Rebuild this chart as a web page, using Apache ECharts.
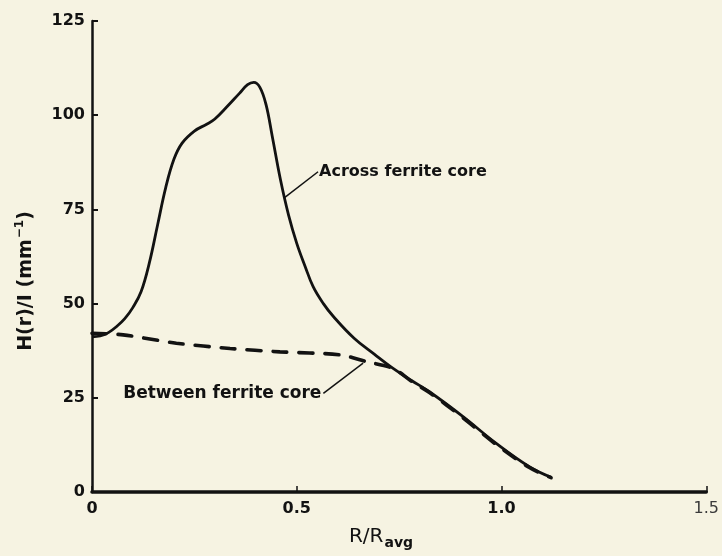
<!DOCTYPE html>
<html>
<head>
<meta charset="utf-8">
<script src="https://cdn.jsdelivr.net/npm/echarts@6/dist/echarts.min.js"></script>
<style>
  html, body { margin: 0; padding: 0; background: #f6f3e2; }
  #chart { width: 722px; height: 556px; }
</style>
</head>
<body>
<div id="chart"></div>
<script>
// Field profile H(r)/I versus normalised radius R/Ravg
const rAcross = [0, 0.02, 0.04, 0.06, 0.08, 0.10, 0.12, 0.14, 0.16, 0.18, 0.20, 0.22, 0.25, 0.28, 0.30, 0.33, 0.36, 0.38, 0.395, 0.41, 0.425, 0.44, 0.46, 0.48, 0.50, 0.52, 0.54, 0.565, 0.59, 0.64, 0.69, 0.73, 0.78, 0.824, 0.906, 0.987, 1.068, 1.121];
const hAcross = [41.2, 41.4, 42.3, 43.9, 46.0, 49.0, 53.2, 60.8, 70.8, 80.8, 88.3, 92.6, 95.8, 97.6, 99.0, 102.3, 105.8, 108.1, 108.7, 107.4, 102.8, 94.5, 83.0, 73.5, 66.0, 60.0, 54.5, 50.0, 46.5, 40.8, 36.5, 33.2, 29.6, 26.6, 20.0, 12.9, 6.7, 3.9];

const rBetween = [0, 0.076, 0.206, 0.337, 0.459, 0.605, 0.67, 0.735, 0.78, 0.824, 0.906, 0.987, 1.068, 1.121];
const hBetween = [42.1, 41.7, 39.5, 38.1, 37.2, 36.4, 34.6, 32.8, 29.4, 26.4, 19.7, 12.6, 6.5, 3.8];

const xTickLabels = ['0', '0.5', '1.0', '1.5'];
const yTickLabels = ['0', '25', '50', '75', '100', '125'];

// Annotation leaders: [curve point, text point] in data units
const acrossLeader = [[0.471, 78.2], [0.552, 85.0]];
const betweenLeader = [[0.662, 34.2], [0.565, 26.2]];
const acrossText = 'Across ferrite core';
const betweenText = 'Between ferrite core';

const ink = '#121212';
const boldFont = 'DejaVu Sans';

const pairs = (xs, ys) => xs.map((x, i) => [x, ys[i]]);

const chart = echarts.init(document.getElementById('chart'));

chart.setOption({
  backgroundColor: '#f6f3e2',
  animation: false,
  grid: { left: 92, right: 15, top: 21, bottom: 64 },
  xAxis: {
    type: 'value',
    min: 0, max: 1.5, interval: 0.5,
    axisLine: { lineStyle: { color: ink, width: 3.5 } },
    axisTick: { inside: true, length: 6, lineStyle: { color: ink, width: 1.5 } },
    splitLine: { show: false },
    axisLabel: {
      margin: 9,
      showMinLabel: true, showMaxLabel: true,
      fontFamily: boldFont, fontSize: 16, fontWeight: 'bold', color: ink,
      formatter: v => {
        const i = Math.round(v / 0.5);
        return i === 3 ? '{light|' + xTickLabels[i] + '}' : xTickLabels[i];
      },
      rich: { light: { fontFamily: boldFont, fontSize: 16, fontWeight: 'normal', color: '#3a3a3a' } }
    }
  },
  yAxis: {
    type: 'value',
    min: 0, max: 125, interval: 25,
    axisLine: { show: true, lineStyle: { color: ink, width: 2.5 } },
    axisTick: { show: true, inside: true, length: 6, lineStyle: { color: ink, width: 2 } },
    splitLine: { show: false },
    axisLabel: {
      margin: 7,
      showMinLabel: true, showMaxLabel: true,
      fontFamily: boldFont, fontSize: 16, fontWeight: 'bold', color: ink,
      formatter: v => yTickLabels[Math.round(v / 25)]
    }
  },
  series: [
    {
      name: acrossText,
      type: 'line',
      data: pairs(rAcross, hAcross),
      smooth: 0.4,
      showSymbol: false,
      lineStyle: { color: ink, width: 2.8 },
      z: 3
    },
    {
      name: betweenText,
      type: 'line',
      data: pairs(rBetween, hBetween),
      smooth: 0.3,
      showSymbol: false,
      lineStyle: { color: ink, width: 3.6, type: [14, 12], cap: 'round' },
      z: 4
    },
    {
      type: 'line',
      data: acrossLeader,
      showSymbol: false,
      lineStyle: { color: ink, width: 1.5 },
      silent: true
    },
    {
      type: 'line',
      data: betweenLeader,
      showSymbol: false,
      lineStyle: { color: ink, width: 1.5 },
      silent: true
    }
  ]
});

const pA = chart.convertToPixel({ gridIndex: 0 }, acrossLeader[1]);
const pB = chart.convertToPixel({ gridIndex: 0 }, betweenLeader[1]);

chart.setOption({
  graphic: [
    {
      type: 'text',
      x: 26, y: 281,
      rotation: Math.PI / 2,
      style: {
        text: '{m|H(r)/I (mm}{s|−1}{m|)}',
        align: 'center',
        verticalAlign: 'middle',
        fill: ink,
        rich: {
          m: { fontFamily: boldFont, fontSize: 19, fontWeight: 'bold', fill: ink },
          s: { fontFamily: boldFont, fontSize: 12, fontWeight: 'bold', fill: ink, padding: [0, 0, 12, 1] }
        }
      }
    },
    {
      type: 'text',
      x: 381, y: 537,
      style: {
        text: '{m|R/R}{s|avg}',
        align: 'center',
        verticalAlign: 'middle',
        fill: ink,
        rich: {
          m: { fontFamily: boldFont, fontSize: 20, fontWeight: 'normal', fill: ink },
          s: { fontFamily: boldFont, fontSize: 14, fontWeight: 'bold', fill: ink, padding: [12, 0, 0, 1] }
        }
      }
    },
    {
      type: 'text',
      x: pA[0] + 1, y: pA[1],
      style: {
        text: acrossText,
        align: 'left', verticalAlign: 'middle',
        fontFamily: boldFont, fontSize: 16, fontWeight: 'bold', fill: ink
      }
    },
    {
      type: 'text',
      x: pB[0] - 2, y: pB[1],
      style: {
        text: betweenText,
        align: 'right', verticalAlign: 'middle',
        fontFamily: boldFont, fontSize: 17, fontWeight: 'bold', fill: ink
      }
    }
  ]
});
</script>
</body>
</html>
